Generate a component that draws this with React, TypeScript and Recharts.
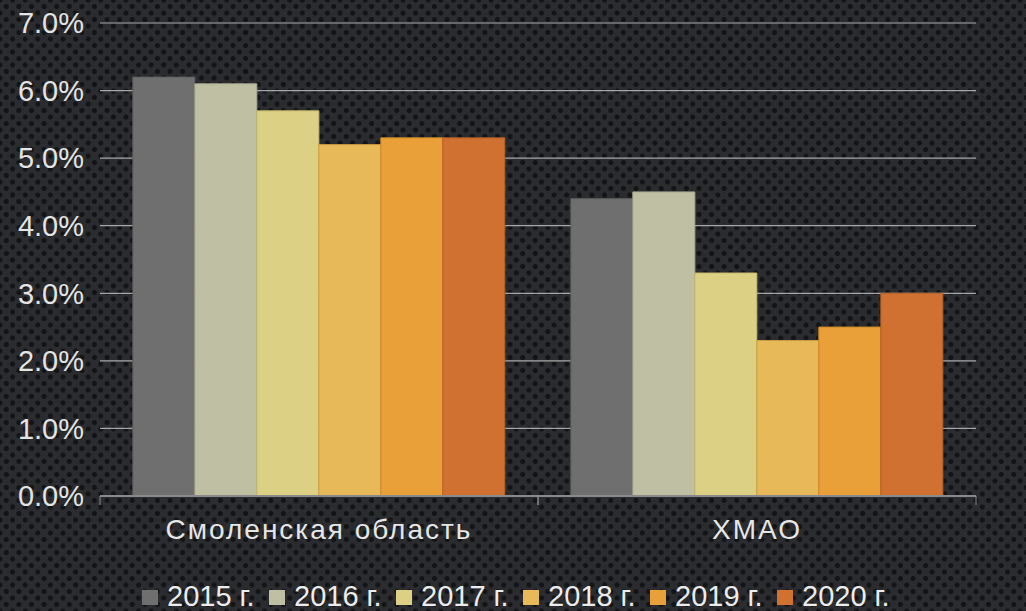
import { BarChart, Bar, XAxis, YAxis, CartesianGrid, Legend } from "recharts";

const regions = ["Смоленская область", "ХМАО"];
const years = ["2015 г.", "2016 г.", "2017 г.", "2018 г.", "2019 г.", "2020 г."];
const smolensk = [6.2, 6.1, 5.7, 5.2, 5.3, 5.3];
const hmao = [4.4, 4.5, 3.3, 2.3, 2.5, 3.0];
const yTicks = [0, 1, 2, 3, 4, 5, 6, 7];

const colors = ["#6f6f6f", "#bfbfa4", "#dbd083", "#e8b958", "#e9a038", "#d07132"];
const strokes = ["#5e5e5e", "#a9a98f", "#c4b96c", "#cfa045", "#cf8a28", "#b65e26"];

const W = 1026;
const H = 611;
const LEFT = 100;
const RIGHT = 50;
const font = "'Liberation Sans', Arial, sans-serif";

const data = regions.map((name, i) => {
  const row: Record<string, string | number> = { name };
  const vals = i === 0 ? smolensk : hmao;
  years.forEach((y, j) => {
    row[y] = vals[j];
  });
  return row;
});

const catWidth = (W - LEFT - RIGHT) / regions.length;

function XTick(props: any) {
  const { x, y, payload } = props;
  return (
    <g>
      <line x1={x - catWidth / 2} x2={x - catWidth / 2} y1={y} y2={y + 9} stroke="#8a8a8a" />
      <line x1={x + catWidth / 2} x2={x + catWidth / 2} y1={y} y2={y + 9} stroke="#8a8a8a" />
      <text
        x={x}
        y={y + 43}
        textAnchor="middle"
        fill="#e6e6e6"
        fontSize={28}
        letterSpacing={2}
        fontFamily={font}
      >
        {payload.value}
      </text>
    </g>
  );
}

function LegendContent() {
  return (
    <div
      style={{
        display: "flex",
        justifyContent: "center",
        height: 32,
        alignItems: "flex-end",
        fontFamily: font,
        fontSize: 29,
        lineHeight: "30px",
        color: "#ececec",
        paddingLeft: 70,
      }}
    >
      {years.map((y, i) => (
        <div key={y} style={{ display: "flex", alignItems: "flex-end", width: 127 }}>
          <span
            style={{ width: 16, height: 15, background: colors[i], marginRight: 9, marginBottom: 6 }}
          />
          <span>{y}</span>
        </div>
      ))}
    </div>
  );
}

export default function App() {
  return (
    <div
      style={{
        position: "fixed",
        left: 0,
        top: 0,
        width: W,
        height: H,
        overflow: "hidden",
        backgroundColor: "#2a2c2f",
        backgroundImage:
          "radial-gradient(circle, #131416 2.2px, transparent 2.8px), radial-gradient(circle, #131416 2.2px, transparent 2.8px)",
        backgroundSize: "12.6px 13px",
        backgroundPosition: "0 0, 6.3px 6.5px",
      }}
    >
      <BarChart
        width={W}
        height={H}
        data={data}
        margin={{ top: 23, right: RIGHT, left: 0, bottom: 0 }}
        barCategoryGap="7.5%"
        barGap={0}
      >
        <CartesianGrid vertical={false} stroke="#a6a6a6" strokeWidth={1.2} />
        <XAxis
          dataKey="name"
          stroke="#8a8a8a"
          strokeWidth={2}
          tickLine={false}
          tickSize={0}
          tickMargin={0}
          height={83}
          tick={<XTick />}
        />
        <YAxis
          width={LEFT}
          domain={[0, 7]}
          ticks={yTicks}
          axisLine={false}
          tickLine={false}
          tickSize={0}
          tickMargin={16}
          tickFormatter={(v: number) => `${v.toFixed(1)}%`}
          tick={{ fill: "#e4e4e4", fontSize: 29, fontFamily: font }}
        />
        <Legend verticalAlign="bottom" content={<LegendContent />} />
        {years.map((y, i) => (
          <Bar
            key={y}
            dataKey={y}
            fill={colors[i]}
            stroke={strokes[i]}
            strokeWidth={1}
            isAnimationActive={false}
          />
        ))}
      </BarChart>
    </div>
  );
}
